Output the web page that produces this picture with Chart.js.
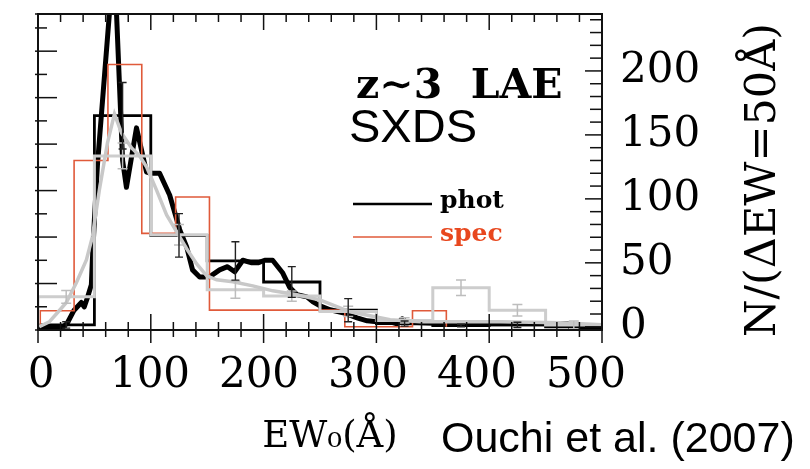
<!DOCTYPE html>
<html>
<head>
<meta charset="utf-8">
<script src="https://cdn.jsdelivr.net/npm/chart.js@4.4.1/dist/chart.umd.min.js"></script>
<style>
  html, body { margin: 0; padding: 0; background: #fff; }
  #wrap { width: 810px; height: 469px; }
</style>
</head>
<body>
<div id="wrap"><canvas id="chart" width="810" height="469"></canvas></div>
<script>
// photometric sample, bins of dEW = 50 A
const photEdges = [0, 50, 100, 150, 200, 250, 300, 350, 400, 450, 500];
const photCounts = [1.5, 165, 71.5, 51.5, 35, 13, 2.5, 1, 1.5, 0];
const photErrors = [2.5, 26, 17, 15, 12, 9, 2, 1, 2, 0];

// gray histogram (same bins)
const grayCounts = [23.4, 133.6, 72, 29, 24, 12, 5, 30.5, 13, 1.5];
const grayErrors = [5, 10, 8, 6.6, 4, 4, 2, 6, 4.5, 3];

// spectroscopic sample, 30 A bins
const specEdges = [2, 32, 62, 92, 122, 152, 182, 212, 242, 272, 302, 332, 362];
const specCounts = [12.5, 130, 205, 73, 101.5, 13, 13, 13, 13, 0, 0, 12.5];

// smooth phot curve
const photCurveEW = [0, 21.6, 26, 32, 38.4, 41, 43.8, 47.3, 48.2, 50, 52.7, 63.3, 66.5, 69.6, 75, 78.4,
  87.3, 96.2, 100.7, 107.8, 116.7, 125.6, 131.8, 137, 143.3, 152, 161, 168, 174.4, 181.6, 189.6, 195,
  201, 208, 217, 223, 229.6, 238.4, 243.8, 250, 259, 270.4, 282.9, 291.8, 300.7, 312.2, 318.4, 322.9,
  327.3, 336, 365.6, 469.6, 474, 500];
const photCurveN = [-0.8, -0.8, 3, 13, 19, 15.6, 22.7, 32.8, 52, 84, 126.6, 245, 255, 245, 130, 109,
  155.5, 121, 120, 120, 103, 76, 62.5, 44.5, 39, 39, 44.5, 47, 43, 52, 50, 50,
  52, 52, 42, 31, 25, 23.4, 19.5, 16.4, 13.3, 11, 7, 4.7, 3.9, 3.9, 2.3, 6.3,
  3.1, 3.1, 2.3, 2.3, -2.3, -2.3];

// smooth gray curve
const grayCurveEW = [1.1, 10, 16.2, 25, 34, 42.9, 48.2, 54.4, 61.6, 67.8, 74, 83, 90, 96.2, 105, 114, 123,
  131.8, 140.7, 149.6, 158.4, 172.7, 190.4, 208.2, 229.6, 250, 276.7, 312.2, 339, 410, 463, 500];
const grayCurveN = [0, 3.9, 10, 18.8, 34.4, 52.3, 70.3, 107, 143.8, 166.4, 151.6, 139.8, 133.6, 125, 107, 87.5, 74.2,
  61, 49.2, 39.8, 36.7, 35.2, 32, 28.1, 25, 21, 11.7, 5.5, 3.9, 3.9, 3.1, 1.6];

const xTickLabels = [0, 100, 200, 300, 400, 500];
const yTickLabels = [0, 50, 100, 150, 200];

function stepPoints(edges, counts) {
    let pts = [{x: edges[0], y: 0}];
    for (let i = 0; i < counts.length; i++) {
        pts.push({x: edges[i], y: counts[i]});
        pts.push({x: edges[i + 1], y: counts[i]});
    }
    pts.push({x: edges[edges.length - 1], y: 0});
    return pts;
}

function curvePoints(xs, ys) {
    return xs.map((x, i) => ({x: x, y: ys[i]}));
}

const photCenters = photCounts.map((c, i) => (photEdges[i] + photEdges[i + 1]) / 2);

// error bars drawn through the dataset scales
const errorBars = {
    id: 'errorBars',
    afterDatasetsDraw(chart) {
        const ctx = chart.ctx;
        chart.data.datasets.forEach((ds, i) => {
            if (!ds.errorBars) return;
            const xs = chart.scales[ds.xAxisID];
            const ys = chart.scales[ds.yAxisID];
            const eb = ds.errorBars;
            ctx.save();
            ctx.strokeStyle = eb.color;
            ctx.lineWidth = eb.width;
            eb.x.forEach((xv, k) => {
                const e = eb.err[k];
                if (!e) return;
                const px = xs.getPixelForValue(xv);
                const top = ys.getPixelForValue(eb.y[k] + e);
                const bot = ys.getPixelForValue(eb.y[k] - e);
                ctx.beginPath();
                ctx.moveTo(px, top); ctx.lineTo(px, bot);
                ctx.moveTo(px - eb.cap, top); ctx.lineTo(px + eb.cap, top);
                ctx.moveTo(px - eb.cap, bot); ctx.lineTo(px + eb.cap, bot);
                ctx.stroke();
            });
            ctx.restore();
        });
    }
};

// inward tick marks and the frame
const frameTicks = {
    id: 'frameTicks',
    afterDatasetsDraw(chart) {
        const {ctx, chartArea: a, scales} = chart;
        ctx.save();
        ctx.strokeStyle = '#111';
        ctx.lineWidth = 1.5;
        const line = (x1, y1, x2, y2) => {
            ctx.beginPath(); ctx.moveTo(x1, y1); ctx.lineTo(x2, y2); ctx.stroke();
        };
        scales.x.ticks.forEach(t => {
            const px = scales.x.getPixelForValue(t.value);
            const major = t.value % 100 === 0;
            line(px, a.bottom - (major ? 16 : 8), px, a.bottom + (major ? 13 : 7));
            line(px, a.top, px, a.top + (major ? 16 : 8));
        });
        scales.yl.ticks.forEach(t => {
            const py = scales.yl.getPixelForValue(t.value);
            const major = Number.isInteger(t.value);
            line(a.left - 3, py, a.left + (major ? 19 : 9), py);
        });
        scales.y.ticks.forEach(t => {
            if (t.value % 10 !== 0) return;
            const py = scales.y.getPixelForValue(t.value);
            const major = t.value % 50 === 0;
            line(a.right, py, a.right - (major ? 17 : 12), py);
        });
        ctx.lineWidth = 2;
        ctx.strokeRect(a.left, a.top, a.right - a.left, a.bottom - a.top);
        ctx.restore();
    }
};

// labels, legend and titles
const annotations = {
    id: 'annotations',
    afterDraw(chart) {
        const ctx = chart.ctx;
        ctx.save();
        ctx.textAlign = 'left';
        ctx.textBaseline = 'alphabetic';
        ctx.fillStyle = '#000';
        ctx.font = 'bold 41px "DejaVu Serif"';
        ctx.fillText('z∼3  LAE', 356, 98);
        ctx.font = '47px "Liberation Sans"';
        ctx.fillText('SXDS', 349, 142);

        // legend
        ctx.strokeStyle = '#000';
        ctx.lineWidth = 2.5;
        ctx.beginPath(); ctx.moveTo(353, 204); ctx.lineTo(432, 204); ctx.stroke();
        ctx.font = 'bold 25px "DejaVu Serif"';
        ctx.fillText('phot', 440, 208);
        ctx.strokeStyle = '#e05a3a';
        ctx.lineWidth = 1.5;
        ctx.beginPath(); ctx.moveTo(353, 237); ctx.lineTo(432, 237); ctx.stroke();
        ctx.fillStyle = '#e8471e';
        ctx.fillText('spec', 440, 241);

        // axis titles
        ctx.fillStyle = '#000';
        ctx.font = '37px "DejaVu Serif"';
        ctx.textAlign = 'center';
        ctx.fillText('EW₀(Å)', 330, 447);
        ctx.textAlign = 'left';
        ctx.font = '43px "Liberation Sans"';
        ctx.fillText('Ouchi et al. (2007)', 441, 452);

        ctx.translate(764, 180);
        ctx.rotate(-Math.PI / 2);
        ctx.textAlign = 'center';
        ctx.textBaseline = 'middle';
        ctx.font = '43px "DejaVu Serif"';
        ctx.fillText('N/(ΔEW=50Å)', 0, 0);
        ctx.restore();
    }
};

const serif = {family: 'DejaVu Serif', size: 42};

new Chart(document.getElementById('chart'), {
    type: 'line',
    data: {
        datasets: [
            {
                label: 'gray curve',
                data: curvePoints(grayCurveEW, grayCurveN),
                borderColor: '#c8c8c8',
                borderWidth: 3.5,
                xAxisID: 'x', yAxisID: 'y'
            },
            {
                label: 'gray hist',
                data: stepPoints(photEdges, grayCounts),
                borderColor: '#cdcdcd',
                borderWidth: 3,
                xAxisID: 'x', yAxisID: 'y',
                errorBars: {x: photCenters, y: grayCounts, err: grayErrors, color: '#bdbdbd', width: 1.5, cap: 5}
            },
            {
                label: 'spec',
                data: stepPoints(specEdges, specCounts),
                borderColor: '#e05a3a',
                borderWidth: 1.6,
                xAxisID: 'x', yAxisID: 'y'
            },
            {
                label: 'phot hist',
                data: stepPoints(photEdges, photCounts),
                borderColor: '#000',
                borderWidth: 2.8,
                xAxisID: 'x', yAxisID: 'y',
                errorBars: {x: photCenters, y: photCounts, err: photErrors, color: '#222', width: 1.4, cap: 4}
            },
            {
                label: 'phot',
                data: curvePoints(photCurveEW, photCurveN),
                borderColor: '#000',
                borderWidth: 5,
                borderJoinStyle: 'round',
                xAxisID: 'x', yAxisID: 'y'
            }
        ]
    },
    options: {
        responsive: false,
        animation: false,
        layout: {padding: {top: 14, left: 0, right: 0, bottom: 0}},
        plugins: {legend: {display: false}, tooltip: {enabled: false}},
        elements: {point: {radius: 0}, line: {tension: 0}},
        scales: {
            x: {
                type: 'linear', position: 'bottom', min: 0, max: 500,
                ticks: {stepSize: 20, display: false, autoSkip: false},
                grid: {display: false, drawTicks: false},
                border: {display: false},
                afterFit: s => { s.height = 0; s.paddingLeft = 0; s.paddingRight = 0; }
            },
            xl: {
                type: 'linear', position: 'bottom', min: -2.75, max: 514.7,
                ticks: {
                    stepSize: 100, includeBounds: false, autoSkip: false, maxRotation: 0,
                    padding: 21, font: serif, color: '#000',
                    callback: v => xTickLabels.includes(v) ? String(v) : ''
                },
                grid: {display: false, drawTicks: false},
                border: {display: false},
                afterFit: s => { s.height = 139; s.paddingLeft = 0; s.paddingRight = 0; }
            },
            yl: {
                type: 'linear', position: 'left', min: 0, max: 6.8,
                ticks: {stepSize: 0.5, display: false, autoSkip: false},
                grid: {display: false, drawTicks: false},
                border: {display: false},
                afterFit: s => { s.width = 38; s.paddingTop = 0; s.paddingBottom = 0; }
            },
            y: {
                type: 'linear', position: 'right', min: -2.5, max: 244.5,
                ticks: {
                    stepSize: 10, includeBounds: false, autoSkip: false, padding: 18, font: serif, color: '#000',
                    callback: v => yTickLabels.includes(v) ? String(v) : ''
                },
                grid: {display: false, drawTicks: false},
                border: {display: false},
                afterFit: s => { s.width = 208; s.paddingTop = 0; s.paddingBottom = 0; }
            }
        }
    },
    plugins: [errorBars, frameTicks, annotations]
});
</script>
</body>
</html>
